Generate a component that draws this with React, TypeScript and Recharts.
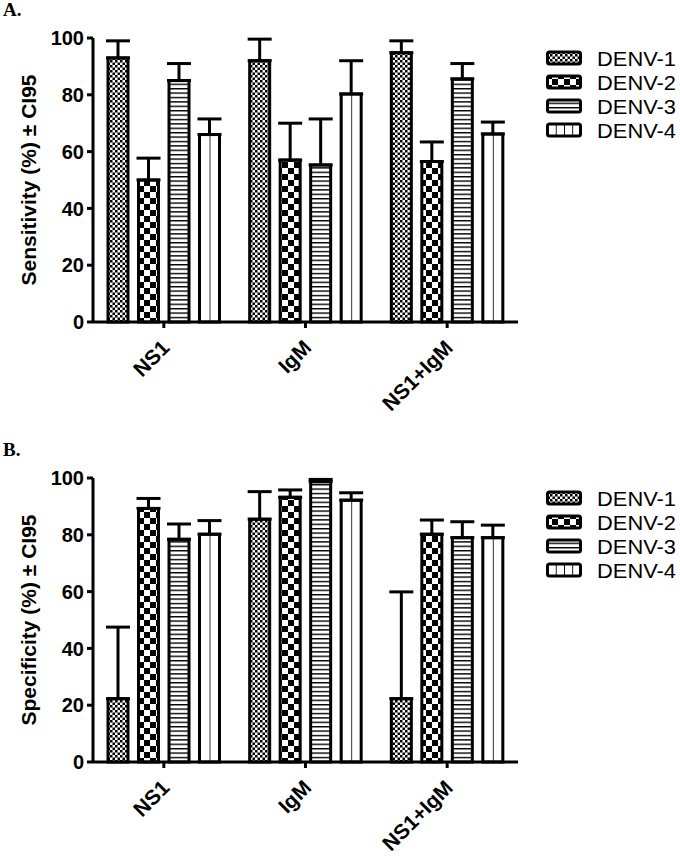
import React from "react";
import { BarChart, Bar, XAxis, YAxis, ErrorBar } from "recharts";

const categories = ["NS1", "IgM", "NS1+IgM"];
const serotypes = ["DENV-1", "DENV-2", "DENV-3", "DENV-4"];
const yTicks = [0, 20, 40, 60, 80, 100];

// Panel A: sensitivity (%) and upper CI95 bound
const sensD1 = [93, 92, 94.8];
const sensD2 = [50, 57, 56.5];
const sensD3 = [85, 55.3, 85.6];
const sensD4 = [66, 80.3, 66.2];
const sensD1Up = [99, 99.6, 99];
const sensD2Up = [57.7, 70, 63.4];
const sensD3Up = [91, 71.5, 91];
const sensD4Up = [71.5, 92, 70.4];

// Panel B: specificity (%) and upper CI95 bound
const specD1 = [22.3, 85.5, 22.3];
const specD2 = [89.3, 93.2, 80.2];
const specD3 = [78.4, 98.7, 79];
const specD4 = [80.2, 92.2, 79];
const specD1Up = [47.5, 95.2, 59.9];
const specD2Up = [92.8, 95.8, 85.2];
const specD3Up = [83.8, 99.5, 84.6];
const specD4Up = [85, 94.8, 83.4];

const FONT = "'Liberation Sans', Arial, sans-serif";

function buildRows(vals: number[][], ups: number[][]) {
  return categories.map((c, i) => {
    const row: any = { cat: c };
    vals.forEach((v, k) => {
      row["d" + k] = v[i];
      row["e" + k] = [0, ups[k][i] - v[i]];
    });
    return row;
  });
}

const sensRows = buildRows([sensD1, sensD2, sensD3, sensD4], [sensD1Up, sensD2Up, sensD3Up, sensD4Up]);
const specRows = buildRows([specD1, specD2, specD3, specD4], [specD1Up, specD2Up, specD3Up, specD4Up]);

const fills = ["url(#pFine)", "url(#pCoarse)", "url(#pHoriz)", "url(#pVert)"];
const legendFills = ["url(#pFine)", "url(#pCoarse)", "url(#pHoriz)", "url(#pVertL)"];

function Patterns() {
  return (
    <svg width={0} height={0} style={{ position: "absolute" }}>
      <defs>
        <pattern id="pFine" patternUnits="userSpaceOnUse" width={5} height={5}>
          <rect width={5} height={5} fill="#fff" />
          <rect x={0} y={0} width={2.5} height={2.5} fill="#000" />
          <rect x={2.5} y={2.5} width={2.5} height={2.5} fill="#000" />
        </pattern>
        <pattern id="pCoarse" patternUnits="userSpaceOnUse" width={12} height={12}>
          <rect width={12} height={12} fill="#fff" />
          <rect x={0} y={0} width={6} height={6} fill="#000" />
          <rect x={6} y={6} width={6} height={6} fill="#000" />
        </pattern>
        <pattern id="pHoriz" patternUnits="userSpaceOnUse" width={10} height={4.4}>
          <rect width={10} height={4.4} fill="#fff" />
          <rect x={0} y={0} width={10} height={1.4} fill="#000" />
        </pattern>
        <pattern id="pVert" patternUnits="objectBoundingBox" x={0} y={0} width={0.5} height={1}>
          <rect width={100} height={1000} fill="#fff" />
          <rect x={-0.7} y={0} width={1.5} height={1000} fill="#000" />
        </pattern>
        <pattern id="pVertL" patternUnits="objectBoundingBox" x={0} y={0} width={0.25} height={1}>
          <rect width={100} height={1000} fill="#fff" />
          <rect x={-0.7} y={0} width={1.6} height={1000} fill="#000" />
        </pattern>
      </defs>
    </svg>
  );
}

const XTick = (props: any) => {
  const { x, y, payload } = props;
  const ax = x + 7;
  const ay = y + 19;
  return (
    <text
      x={ax}
      y={ay}
      transform={`rotate(-45 ${ax} ${ay})`}
      textAnchor="end"
      fontFamily={FONT}
      fontWeight="bold"
      fontSize={21}
      fill="#000"
    >
      {payload.value}
    </text>
  );
};

function Legend({ top }: { top: number }) {
  return (
    <svg width={140} height={140} style={{ position: "absolute", left: 540, top: top }}>
      {serotypes.map((s, i) => {
        const cy = 39 + i * 24;
        return (
          <g key={s}>
            <rect x={7.5} y={cy - 6} width={33} height={12} rx={2} fill={legendFills[i]} stroke="#000" strokeWidth={3} />
            <text
              x={57}
              y={cy}
              dominantBaseline="central"
              fontFamily={FONT}
              fontSize={21}
              textLength={79}
              lengthAdjust="spacingAndGlyphs"
              fill="#000"
            >
              {s}
            </text>
          </g>
        );
      })}
    </svg>
  );
}

function Panel({ rows, label, letter, top, h }: { rows: any[]; label: string; letter: string; top: number; h: number }) {
  return (
    <div style={{ position: "absolute", left: 0, top: top, width: 680, height: h }}>
      <div
        style={{
          position: "absolute",
          left: 3,
          top: 0,
          fontFamily: "'Liberation Serif', 'Times New Roman', serif",
          fontWeight: "bold",
          fontSize: 19,
          lineHeight: "19px",
        }}
      >
        {letter}
      </div>
      <BarChart
        width={680}
        height={h}
        data={rows}
        margin={{ top: 38, right: 162, bottom: h - 382, left: 0 }}
        barSize={20}
        barGap={10.5}
      >
        <XAxis
          dataKey="cat"
          height={60}
          interval={0}
          axisLine={{ stroke: "#000", strokeWidth: 3 }}
          tickLine={{ stroke: "#000", strokeWidth: 3 }}
          tickSize={6}
          tickMargin={2}
          tick={<XTick />}
        />
        <YAxis
          width={93}
          domain={[0, 100]}
          ticks={yTicks}
          interval={0}
          axisLine={{ stroke: "#000", strokeWidth: 3 }}
          tickLine={{ stroke: "#000", strokeWidth: 3 }}
          tickSize={6}
          tickMargin={3}
          tick={{ fill: "#000", fontFamily: FONT, fontWeight: "bold", fontSize: 20 }}
          label={{
            content: (p: any) => {
              const vb = p.viewBox;
              const cx = 28;
              const cy = vb.y + vb.height / 2;
              return (
                <text
                  x={cx}
                  y={cy}
                  transform={`rotate(-90 ${cx} ${cy})`}
                  textAnchor="middle"
                  dominantBaseline="central"
                  fontFamily={FONT}
                  fontWeight="bold"
                  fontSize={21}
                  fill="#000"
                >
                  {label}
                </text>
              );
            },
          }}
        />
        {[0, 1, 2, 3].map((k) => (
          <Bar
            key={k}
            dataKey={"d" + k}
            name={serotypes[k]}
            fill={fills[k]}
            stroke="#000"
            strokeWidth={3}
            isAnimationActive={false}
          >
            <ErrorBar dataKey={"e" + k} direction="y" width={12} stroke="#000" strokeWidth={3} />
          </Bar>
        ))}
      </BarChart>
      <Legend top={19} />
    </div>
  );
}

export default function App() {
  return (
    <div style={{ position: "absolute", left: 0, top: 0, width: 680, height: 856, background: "#fff" }}>
      <Patterns />
      <Panel rows={sensRows} label="Sensitivity (%) ± CI95" letter="A." top={0} h={440} />
      <Panel rows={specRows} label="Specificity (%) ± CI95" letter="B." top={440} h={416} />
    </div>
  );
}
